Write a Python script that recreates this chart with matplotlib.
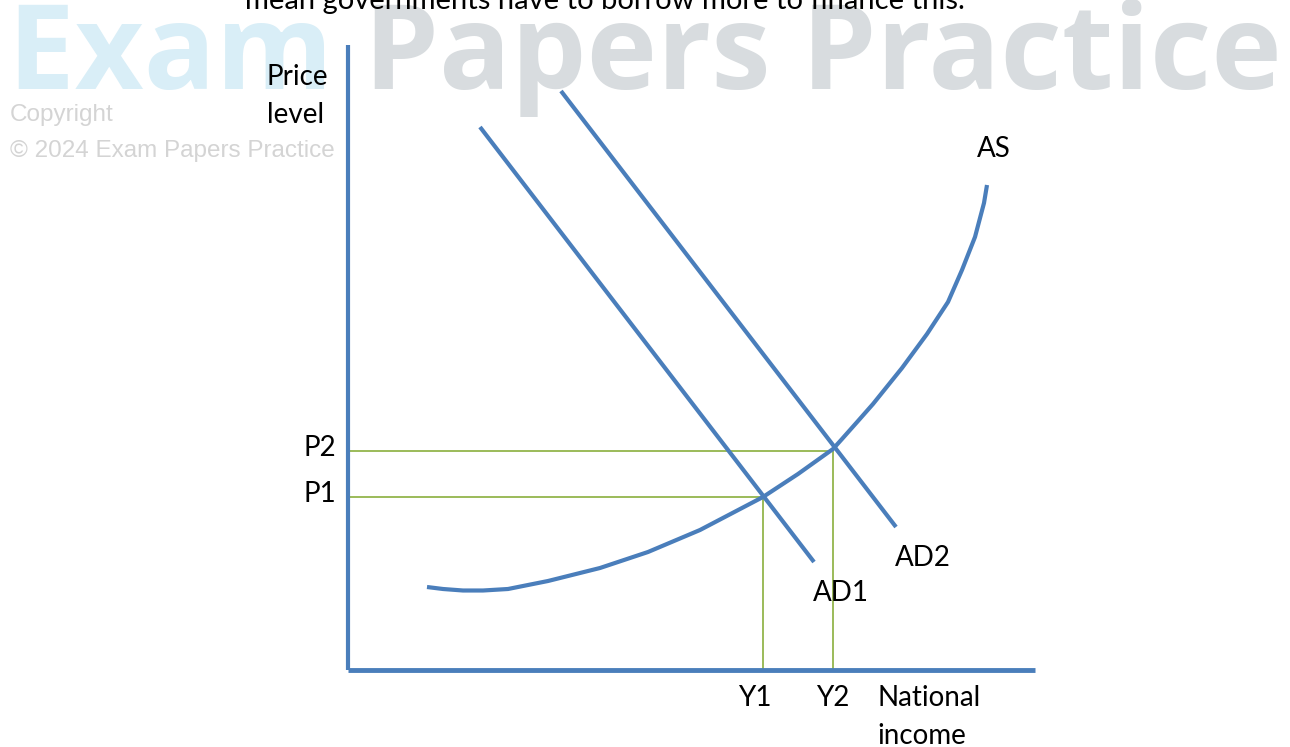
import matplotlib
matplotlib.use("Agg")
import matplotlib.pyplot as plt

# diagram units: origin at the axis corner, 1 unit ~ 1 px of the 1290x747 output
AD1_x = [132, 466]
AD1_y = [543, 108]
AD2_x = [213, 548]
AD2_y = [579, 143]
AS_x = [79, 95, 115, 135, 160, 200, 252, 300, 352, 415, 450, 485, 494, 510, 525, 554,
        579, 600, 614, 627, 636, 639]
AS_y = [83, 81, 79.5, 79.5, 81, 89, 102, 118, 140, 173, 196, 221, 231, 249, 266, 302,
        336, 368, 400, 433, 467, 485]
Y_eq = [415, 485]          # Y1, Y2
P_eq = [173, 219]          # P1, P2
Y_labels = ["Y1", "Y2"]
P_labels = ["P1", "P2"]
X_MAX, Y_MAX = 687, 625

BLUE = "#4a7ebb"
GREEN = "#9bbb59"
FONT = ["Lato", "DejaVu Sans"]
WM_FONT = ["Open Sans", "DejaVu Sans"]

fig = plt.figure(figsize=(12.9, 7.47), dpi=100)
ax = fig.add_axes([0, 0, 1, 1])
ax.set_xlim(-348, 1290 - 348)
ax.set_ylim(670 - 747, 670)
ax.axis("off")

# watermark: fit the two words into the same span as the reference
fig.canvas.draw()
r = fig.canvas.get_renderer()
wm_size = 84
t1 = ax.text(-340, 581, "Exam ", fontsize=wm_size, fontweight="bold", color="#d9eef7",
             family=WM_FONT, va="baseline", zorder=0)
t2 = ax.text(0, 581, "Papers Practice", fontsize=wm_size, fontweight="bold",
             color="#d8dcdf", family=WM_FONT, va="baseline", zorder=0)
w = t1.get_window_extent(r).width + t2.get_window_extent(r).width
wm_size *= 1272 / w
t1.set_fontsize(wm_size)
t2.set_fontsize(wm_size)
t2.set_x(-340 + t1.get_window_extent(r).width)

ax.text(-338, 555, "Copyright", fontsize=17.5, color="#d4d4d4",
        family="Liberation Sans", va="center", zorder=0)
ax.text(-338, 519, "\u00a9 2024 Exam Papers Practice", fontsize=17.5, color="#d4d4d4",
        family="Liberation Sans", va="center", zorder=0)

# clipped sentence at the top
ax.text(257, 661, "mean governments have to borrow more to finance this.", fontsize=21,
        family=FONT, ha="center", va="baseline", zorder=1)

# axes of the diagram
ax.plot([0, 0], [0, Y_MAX], color=BLUE, lw=3, solid_capstyle="butt", zorder=3)
ax.plot([0, X_MAX], [0, 0], color=BLUE, lw=3.5, solid_capstyle="butt", zorder=3)

# equilibrium guide lines
for yv, pv in zip(Y_eq, P_eq):
    ax.plot([0, yv], [pv, pv], color=GREEN, lw=1.4, zorder=2)
    ax.plot([yv, yv], [0, pv], color=GREEN, lw=1.4, zorder=2)

# curves
for xs, ys in [(AD1_x, AD1_y), (AD2_x, AD2_y), (AS_x, AS_y)]:
    ax.plot(xs, ys, color=BLUE, lw=3, solid_capstyle="butt", solid_joinstyle="round",
            zorder=4)

# labels
ts = 20
for yv, lab, dx in zip(Y_eq, Y_labels, [-8, 0]):
    ax.text(yv + dx, -28, lab, fontsize=ts, family=FONT, ha="center", va="center")
for pv, lab in zip(P_eq, P_labels):
    ax.text(-12, pv + 3, lab, fontsize=ts, family=FONT, ha="right", va="center")
ax.text(529, -28, "National", fontsize=ts, family=FONT, ha="left", va="center")
ax.text(529, -66, "income", fontsize=ts, family=FONT, ha="left", va="center")
ax.text(-81, 593, "Price", fontsize=ts, family=FONT, ha="left", va="center")
ax.text(-81, 555, "level", fontsize=ts, family=FONT, ha="left", va="center")
ax.text(629, 521, "AS", fontsize=ts, family=FONT, ha="left", va="center")
ax.text(547, 112, "AD2", fontsize=ts, family=FONT, ha="left", va="center")
ax.text(465, 77, "AD1", fontsize=ts, family=FONT, ha="left", va="center")

fig.savefig("out.png", dpi=100, facecolor="white")
